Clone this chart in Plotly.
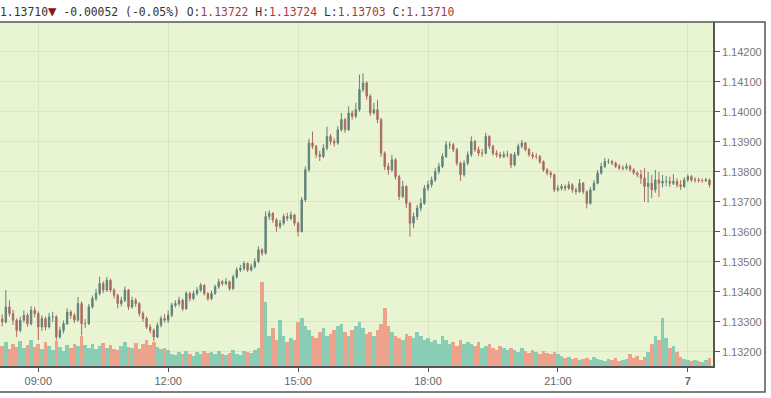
import pandas as pd
import plotly.graph_objects as go

# Prices in 1e-5 units above 1.13000 (5-minute candles from 08:10)
close_v = [300, 350, 328, 306, 272, 306, 322, 294, 339, 328,
           283, 311, 283, 317, 317, 250, 272, 294, 333, 322, 306, 361,
           294, 294, 350, 378, 395, 428, 406, 439, 406, 389, 361, 372,
           406, 350, 372, 361, 328, 311, 283, 272, 250, 289, 311, 306,
           322, 356, 361, 372, 344, 395, 378, 395, 406, 422, 395, 378,
           395, 417, 434, 428, 434, 411, 450, 473, 478, 495, 473, 484,
           501, 540, 529, 651, 662, 640, 618, 629, 651, 645, 656, 629,
           601, 707, 807, 896, 885, 857, 851, 879, 918, 901, 896, 940,
           974, 940, 996, 985, 1007, 1074, 1096, 1052, 996, 1007, 974, 862,
           818, 807, 840, 784, 718, 751, 695, 629, 651, 679, 695, 745,
           757, 773, 801, 818, 851, 890, 890, 874, 829, 790, 829, 857,
           901, 874, 862, 862, 918, 885, 862, 857, 851, 857, 857, 823,
           857, 885, 896, 874, 857, 851, 851, 834, 807, 796, 790, 740,
           745, 751, 745, 757, 740, 734, 762, 734, 695, 740, 762, 796,
           818, 834, 834, 829, 818, 812, 812, 818, 807, 796, 790, 779,
           751, 762, 740, 773, 762, 768, 768, 762, 768, 757, 751, 773,
           784, 773, 773, 771, 771, 773, 757]
high_v = [325, 406, 372, 340, 312, 318, 338, 330, 352, 350,
          335, 322, 318, 330, 334, 322, 284, 305, 346, 340, 330, 383,
          368, 310, 360, 388, 410, 450, 436, 450, 444, 412, 394, 384,
          418, 410, 384, 380, 366, 335, 318, 292, 278, 298, 320, 326,
          338, 364, 372, 384, 378, 402, 400, 404, 416, 430, 426, 398,
          404, 424, 444, 440, 446, 438, 458, 482, 490, 502, 498, 494,
          512, 552, 546, 668, 672, 666, 646, 640, 660, 664, 668, 660,
          634, 716, 818, 910, 934, 890, 870, 892, 950, 926, 912, 952,
          996, 980, 1018, 1004, 1030, 1124, 1128, 1102, 1058, 1030, 1040, 980,
          868, 830, 856, 846, 790, 770, 756, 700, 664, 690, 712, 756,
          770, 784, 812, 830, 862, 902, 900, 896, 880, 834, 838, 868,
          918, 906, 884, 876, 930, 922, 890, 872, 866, 868, 870, 862,
          866, 894, 906, 900, 880, 866, 862, 856, 838, 812, 804, 794,
          756, 760, 758, 768, 762, 748, 776, 766, 738, 750, 772, 806,
          830, 846, 844, 840, 834, 826, 822, 828, 824, 812, 802, 806,
          812, 800, 790, 806, 800, 790, 786, 784, 792, 778, 772, 782,
          792, 790, 782, 780, 778, 780, 778]
low_v = [285, 295, 318, 290, 250, 265, 298, 284, 288, 316,
         240, 270, 272, 278, 300, 238, 244, 262, 290, 310, 296, 300,
         255, 280, 290, 344, 370, 388, 396, 400, 398, 378, 345, 352,
         366, 340, 344, 350, 318, 300, 276, 262, 236, 246, 282, 298,
         296, 316, 348, 352, 336, 340, 368, 372, 388, 400, 388, 370,
         372, 390, 410, 420, 422, 404, 406, 444, 466, 470, 466, 468,
         478, 496, 520, 524, 640, 630, 600, 610, 622, 636, 638, 620,
         585, 598, 700, 800, 876, 846, 836, 846, 872, 890, 884, 890,
         934, 930, 936, 974, 978, 1000, 1066, 1040, 986, 990, 962, 850,
         806, 790, 800, 774, 706, 712, 680, 584, 612, 640, 668, 690,
         736, 748, 766, 792, 812, 846, 876, 866, 820, 770, 784, 822,
         850, 866, 852, 850, 858, 876, 854, 848, 844, 846, 848, 812,
         818, 852, 878, 868, 850, 842, 842, 826, 800, 788, 780, 732,
         734, 738, 736, 740, 730, 724, 730, 726, 678, 690, 736, 758,
         790, 812, 826, 822, 812, 806, 804, 806, 800, 790, 782, 760,
         700, 698, 712, 730, 716, 748, 752, 750, 756, 748, 740, 746,
         766, 766, 764, 764, 764, 766, 748]
first_open_v = 310
# Volume (relative units) per candle
volume = [20, 24, 17, 22, 19, 25, 18, 21, 26, 19,
          22, 17, 24, 20, 16, 25, 19, 15, 21, 18, 22, 20,
          30, 21, 18, 22, 17, 20, 23, 18, 21, 17, 16, 20,
          24, 19, 18, 23, 17, 22, 26, 21, 24, 19, 17, 18,
          16, 12, 11, 14, 12, 15, 12, 10, 14, 12, 15, 13,
          14, 12, 15, 12, 11, 13, 16, 12, 11, 15, 14, 13,
          16, 18, 84, 64, 30, 38, 26, 46, 30, 24, 28, 26,
          44, 48, 40, 36, 30, 28, 34, 38, 30, 32, 36, 40,
          42, 34, 30, 36, 40, 44, 38, 32, 34, 30, 36, 42,
          58, 40, 34, 30, 28, 26, 32, 30, 28, 34, 30, 26,
          28, 24, 26, 22, 30, 26, 22, 24, 20, 26, 22, 24,
          22, 20, 24, 18, 20, 22, 18, 16, 20, 18, 16, 18,
          16, 14, 18, 15, 13, 16, 14, 12, 15, 13, 12, 14,
          12, 10, 8, 9, 7, 8, 6, 7, 8, 6, 9, 7,
          6, 5, 7, 6, 8, 5, 6, 7, 12, 8, 10, 6,
          9, 14, 22, 30, 26, 48, 28, 18, 20, 14, 9, 7,
          6, 5, 6, 5, 4, 6, 8]
tick_times = ["2019-02-06 09:00", "2019-02-06 12:00", "2019-02-06 15:00",
              "2019-02-06 18:00", "2019-02-06 21:00", "2019-02-07 00:00"]
tick_text = ["09:00", "12:00", "15:00", "18:00", "21:00", "<b>7</b>"]

base = 1.13
close = [base + v / 1e5 for v in close_v]
high = [base + v / 1e5 for v in high_v]
low = [base + v / 1e5 for v in low_v]
open_ = [base + first_open_v / 1e5] + close[:-1]
times = pd.date_range("2019-02-06 08:10", periods=len(close), freq="5min")

up_col = "#80c9b2"
dn_col = "#ee9a84"
vol_colors = [up_col if c >= o else dn_col for o, c in zip(open_, close)]

fig = go.Figure()
fig.add_trace(go.Bar(x=times, y=volume, marker=dict(color=vol_colors, line=dict(width=0)),
                     opacity=0.9, yaxis="y", showlegend=False, hoverinfo="skip"))
fig.add_trace(go.Candlestick(
    x=times, open=open_, high=high, low=low, close=close, yaxis="y2",
    increasing=dict(line=dict(color="#62837a", width=1), fillcolor="#62837a"),
    decreasing=dict(line=dict(color="#ad6a60", width=1), fillcolor="#ad6a60"),
    whiskerwidth=0, showlegend=False))

fig.update_layout(
    width=771, height=398,
    margin=dict(l=0, r=58, t=22, b=32, autoexpand=False),
    paper_bgcolor="white",
    plot_bgcolor="#e9f4d3",
    bargap=0,
    boxgap=0.45,
    font=dict(family="Liberation Sans, Arial, sans-serif", size=11, color="#666"),
    xaxis=dict(type="date", range=["2019-02-06 08:06:56", "2019-02-07 00:34:54"],
               rangeslider=dict(visible=False), automargin=False,
               tickvals=tick_times, ticktext=tick_text,
               ticks="outside", ticklen=4, tickcolor="#555",
               showline=True, linecolor="#555", linewidth=1.5,
               showgrid=True, gridcolor="#d9e7c4", gridwidth=1,
               tickfont=dict(size=11, color="#666")),
    yaxis=dict(range=[0, 344], visible=False, showgrid=False, fixedrange=True,
               automargin=False),
    yaxis2=dict(overlaying="y", side="right", range=[1.131532, 1.14299],
                tick0=1.132, dtick=0.001, tickformat=".5f", automargin=False,
                ticks="outside", ticklen=5, tickcolor="#555",
                showline=True, linecolor="#555", linewidth=1.5,
                showgrid=True, gridcolor="#d9e7c4", gridwidth=1,
                zeroline=False, tickfont=dict(size=11, color="#777")),
    shapes=[dict(type="rect", xref="paper", yref="paper",
                 x0=-0.02, x1=765 / 713, y0=-26 / 344, y1=1,
                 line=dict(color="#555", width=1.5), fillcolor="rgba(0,0,0,0)", layer="above")],
    annotations=[dict(
        xref="paper", yref="paper", x=0, y=1 + 11 / 344, xanchor="left", yanchor="middle",
        showarrow=False, xshift=-2,
        font=dict(family="DejaVu Sans Mono, monospace", size=11.4, color="#333"),
        text=("1.13710<span style='color:#8b1414;font-size:14px'>▼</span> -0.00052 (-0.05%) "
              "O:<span style='color:#a33a3a'>1.13722</span> "
              "H:<span style='color:#a33a3a'>1.13724</span> "
              "L:<span style='color:#a33a3a'>1.13703</span> "
              "C:<span style='color:#a33a3a'>1.13710</span>"))],
)

fig.write_html("out.html", config={"displayModeBar": False},
               post_script="document.body.style.margin='0';")
